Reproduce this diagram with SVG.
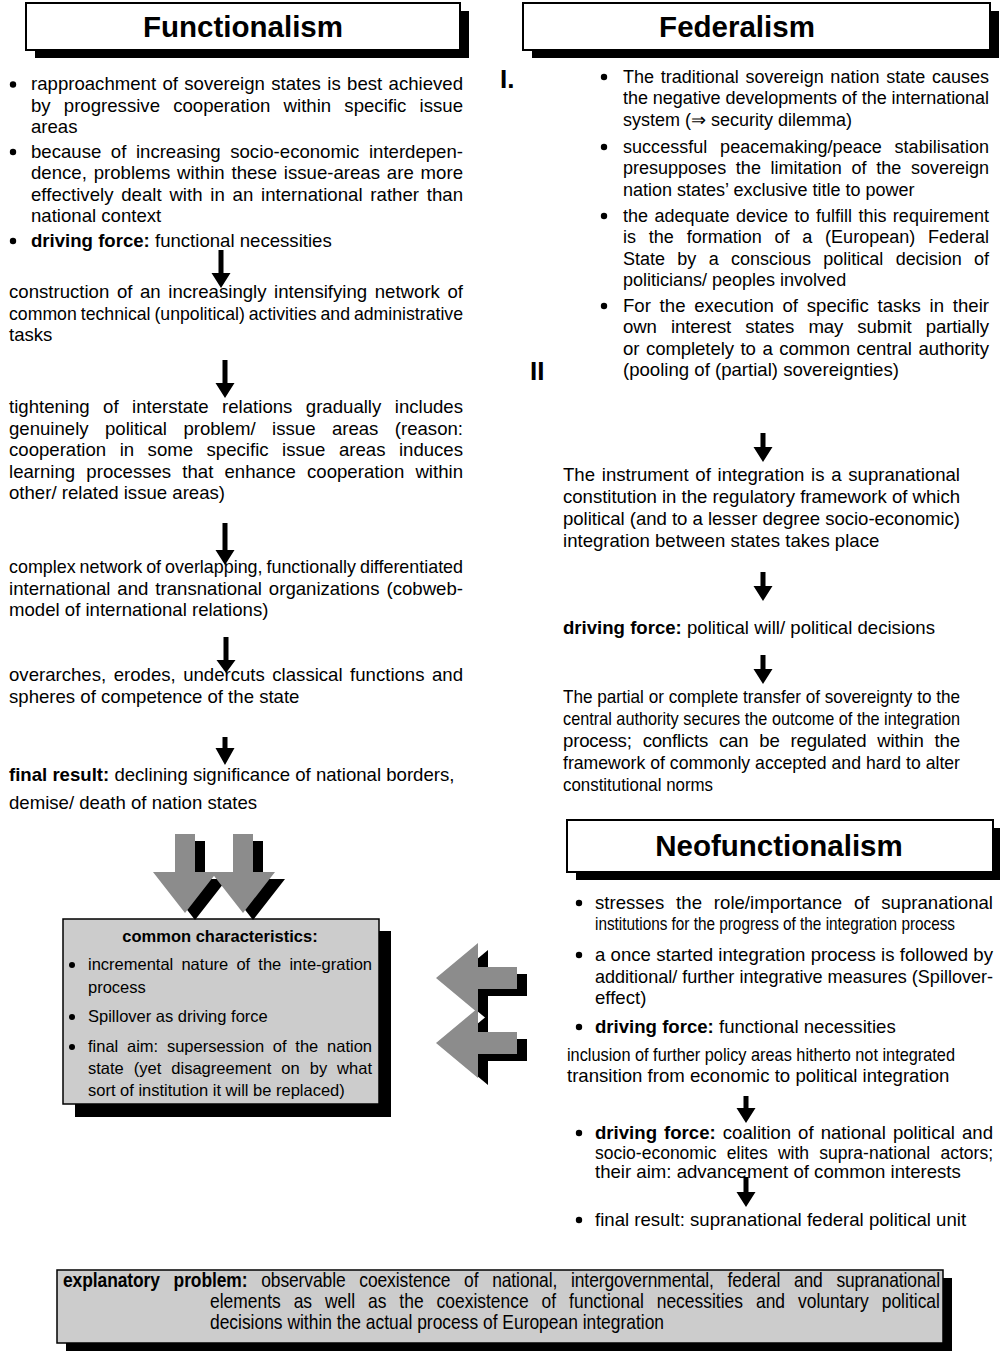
<svg xmlns="http://www.w3.org/2000/svg" width="1000" height="1356" viewBox="0 0 1000 1356">
<style>
.t{font-family:"Liberation Sans",Arial,sans-serif;font-size:18.6px;fill:#000}
.f{font-size:18px}
.b{font-weight:bold}
.h{font-family:"Liberation Sans",Arial,sans-serif;font-size:29.5px;font-weight:bold;text-anchor:middle;fill:#000}
.g{font-family:"Liberation Sans",Arial,sans-serif;font-size:16.5px;fill:#000}
.x{font-family:"Liberation Sans",Arial,sans-serif;font-size:20.5px;fill:#000}
.tb{fill:#fff;stroke:#000;stroke-width:2}
.sh{fill:#000}
.gb{fill:#cccccc;stroke:#000;stroke-width:1.5}
.ga{fill:#8c8c8c}
.arr{fill:#000}
.dot{fill:#000}
</style>
<rect width="1000" height="1356" fill="#fff"/>

<g id="functionalism">
  <rect class="sh" x="35" y="11" width="434" height="47"/>
  <rect class="tb" x="26" y="3" width="434" height="47"/>
  <text class="h" x="243" y="37">Functionalism</text>
  <circle class="dot" cx="13" cy="84.5" r="3.2"/>
  <circle class="dot" cx="13" cy="152" r="3.2"/>
  <circle class="dot" cx="13" cy="241" r="3.2"/>
  <text class="t" x="31" y="90" textLength="432" lengthAdjust="spacing" style="word-spacing:1.2px">rapproachment of sovereign states is best achieved</text>
  <text class="t" x="31" y="111.5" textLength="432" lengthAdjust="spacing" style="word-spacing:8px">by progressive cooperation within specific issue</text>
  <text class="t" x="31" y="133">areas</text>
  <text class="t" x="31" y="157.5" textLength="432" lengthAdjust="spacing" style="word-spacing:4.4px">because of increasing socio-economic interdepen-</text>
  <text class="t" x="31" y="179" textLength="432" lengthAdjust="spacing" style="word-spacing:1.7px">dence, problems within these issue-areas are more</text>
  <text class="t" x="31" y="200.5" textLength="432" lengthAdjust="spacing" style="word-spacing:2.6px">effectively dealt with in an international rather than</text>
  <text class="t" x="31" y="222">national context</text>
  <text class="t" x="31" y="246.5"><tspan class="b">driving force:</tspan> functional necessities</text>
</g>

<g id="func-step1">
  <text class="t" x="9" y="298" textLength="454" lengthAdjust="spacing" style="word-spacing:2.4px">construction of an increasingly intensifying network of</text>
  <text class="t" x="9" y="319.5" textLength="454" lengthAdjust="spacingAndGlyphs" style="word-spacing:-1px">common technical (unpolitical) activities and administrative</text>
  <text class="t" x="9" y="341">tasks</text>
</g>
<g id="func-step2">
  <text class="t" x="9" y="413" textLength="454" lengthAdjust="spacing" style="word-spacing:8.3px">tightening of interstate relations gradually includes</text>
  <text class="t" x="9" y="434.5" textLength="454" lengthAdjust="spacing" style="word-spacing:11.2px">genuinely political problem/ issue areas (reason:</text>
  <text class="t" x="9" y="456" textLength="454" lengthAdjust="spacing" style="word-spacing:8.3px">cooperation in some specific issue areas induces</text>
  <text class="t" x="9" y="477.5" textLength="454" lengthAdjust="spacing" style="word-spacing:6px">learning processes that enhance cooperation within</text>
  <text class="t" x="9" y="499">other/ related issue areas)</text>
</g>
<g id="func-step3">
  <text class="t" x="9" y="573" textLength="454" lengthAdjust="spacingAndGlyphs" style="word-spacing:-1px">complex network of overlapping, functionally differentiated</text>
  <text class="t" x="9" y="594.5" textLength="454" lengthAdjust="spacing" style="word-spacing:1.8px">international and transnational organizations (cobweb-</text>
  <text class="t" x="9" y="616">model of international relations)</text>
</g>
<g id="func-step4">
  <text class="t" x="9" y="681" textLength="454" lengthAdjust="spacing" style="word-spacing:2.3px">overarches, erodes, undercuts classical functions and</text>
  <text class="t" x="9" y="702.5">spheres of competence of the state</text>
</g>
<g id="func-result">
  <text class="t" x="9" y="781"><tspan class="b">final result:</tspan> declining significance of national borders,</text>
  <text class="t" x="9" y="809">demise/ death of nation states</text>
</g>

<g id="federalism">
  <rect class="sh" x="532" y="11" width="467" height="47"/>
  <rect class="tb" x="523" y="3" width="467" height="47"/>
  <text class="h" x="737" y="37">Federalism</text>
  <text class="t b" x="500" y="88" style="font-size:26px">I.</text>
  <text class="t b" x="530" y="380" style="font-size:26px">II</text>
  <circle class="dot" cx="604" cy="77" r="3.2"/>
  <circle class="dot" cx="604" cy="147" r="3.2"/>
  <circle class="dot" cx="604" cy="216" r="3.2"/>
  <circle class="dot" cx="604" cy="306" r="3.2"/>
  <text class="t f" x="623" y="82.5" textLength="366" lengthAdjust="spacing" style="word-spacing:1.7px">The traditional sovereign nation state causes</text>
  <text class="t f" x="623" y="104" textLength="366" lengthAdjust="spacing">the negative developments of the international</text>
  <text class="t f" x="623" y="125.5">system (⇒ security dilemma)</text>
  <text class="t f" x="623" y="152.5" textLength="366" lengthAdjust="spacing" style="word-spacing:7.7px">successful peacemaking/peace stabilisation</text>
  <text class="t f" x="623" y="174" textLength="366" lengthAdjust="spacing" style="word-spacing:4.7px">presupposes the limitation of the sovereign</text>
  <text class="t f" x="623" y="195.5">nation states’ exclusive title to power</text>
  <text class="t f" x="623" y="221.5" textLength="366" lengthAdjust="spacing" style="word-spacing:1.4px">the adequate device to fulfill this requirement</text>
  <text class="t f" x="623" y="243" textLength="366" lengthAdjust="spacing" style="word-spacing:7.8px">is the formation of a (European) Federal</text>
  <text class="t f" x="623" y="264.5" textLength="366" lengthAdjust="spacing" style="word-spacing:7.3px">State by a conscious political decision of</text>
  <text class="t f" x="623" y="286">politicians/ peoples involved</text>
  <text class="t" x="623" y="311.5" textLength="366" lengthAdjust="spacing" style="word-spacing:3.5px">For the execution of specific tasks in their</text>
  <text class="t" x="623" y="333" textLength="366" lengthAdjust="spacing" style="word-spacing:9px">own interest states may submit partially</text>
  <text class="t" x="623" y="354.5" textLength="366" lengthAdjust="spacing" style="word-spacing:1.5px">or completely to a common central authority</text>
  <text class="t" x="623" y="376">(pooling of (partial) sovereignties)</text>
</g>
<g id="fed-instrument">
  <text class="t" x="563" y="481" textLength="397" lengthAdjust="spacing" style="word-spacing:1.5px">The instrument of integration is a supranational</text>
  <text class="t" x="563" y="503" textLength="397" lengthAdjust="spacing">constitution in the regulatory framework of which</text>
  <text class="t" x="563" y="525" textLength="397" lengthAdjust="spacing">political (and to a lesser degree socio-economic)</text>
  <text class="t" x="563" y="546.5">integration between states takes place</text>
</g>
<g id="fed-driving">
  <text class="t" x="563" y="634"><tspan class="b">driving force:</tspan> political will/ political decisions</text>
</g>
<g id="fed-result">
  <text class="t" x="563" y="703" textLength="397" lengthAdjust="spacingAndGlyphs">The partial or complete transfer of sovereignty to the</text>
  <text class="t" x="563" y="725" textLength="397" lengthAdjust="spacingAndGlyphs">central authority secures the outcome of the integration</text>
  <text class="t" x="563" y="747" textLength="397" lengthAdjust="spacing" style="word-spacing:6px">process; conflicts can be regulated within the</text>
  <text class="t" x="563" y="769" textLength="397" lengthAdjust="spacingAndGlyphs">framework of commonly accepted and hard to alter</text>
  <text class="t" x="563" y="791" textLength="150" lengthAdjust="spacingAndGlyphs">constitutional norms</text>
</g>

<g id="neofunctionalism">
  <rect class="sh" x="576" y="828" width="426" height="52"/>
  <rect class="tb" x="567" y="820" width="426" height="52"/>
  <text class="h" x="779" y="856">Neofunctionalism</text>
  <circle class="dot" cx="579" cy="903" r="3.2"/>
  <circle class="dot" cx="579" cy="955" r="3.2"/>
  <circle class="dot" cx="579" cy="1027" r="3.2"/>
  <circle class="dot" cx="579" cy="1133" r="3.2"/>
  <circle class="dot" cx="579" cy="1220" r="3.2"/>
  <text class="t" x="595" y="909" textLength="398" lengthAdjust="spacing" style="word-spacing:6.7px">stresses the role/importance of supranational</text>
  <text class="t" x="595" y="930" textLength="360" lengthAdjust="spacingAndGlyphs">institutions for the progress of the integration process</text>
  <text class="t" x="595" y="961" textLength="398" lengthAdjust="spacing">a once started integration process is followed by</text>
  <text class="t" x="595" y="982.5" textLength="398" lengthAdjust="spacingAndGlyphs">additional/ further integrative measures (Spillover-</text>
  <text class="t" x="595" y="1004">effect)</text>
  <text class="t" x="595" y="1033"><tspan class="b">driving force:</tspan> functional necessities</text>
  <text class="t" x="567" y="1061" textLength="388" lengthAdjust="spacingAndGlyphs">inclusion of further policy areas hitherto not integrated</text>
  <text class="t" x="567" y="1082">transition from economic to political integration</text>
  <text class="t" x="595" y="1139" textLength="398" lengthAdjust="spacing" style="word-spacing:1.9px"><tspan class="b">driving force:</tspan> coalition of national political and</text>
  <text class="t" x="595" y="1158.5" textLength="398" lengthAdjust="spacing" style="font-size:17.5px;word-spacing:5.4px">socio-economic elites with supra-national actors;</text>
  <text class="t" x="595" y="1178">their aim: advancement of common interests</text>
  <text class="t" x="595" y="1226">final result: supranational federal political unit</text>
</g>

<g id="common-characteristics">
  <rect class="sh" x="75" y="931" width="316" height="186"/>
  <rect class="gb" x="63" y="919" width="316" height="185"/>
  <text class="g b" x="220" y="942" text-anchor="middle">common characteristics:</text>
  <circle class="dot" cx="72" cy="965" r="3"/>
  <circle class="dot" cx="72" cy="1017" r="3"/>
  <circle class="dot" cx="72" cy="1047" r="3"/>
  <text class="g" x="88" y="970" textLength="284" lengthAdjust="spacing" style="word-spacing:3.6px">incremental nature of the inte-gration</text>
  <text class="g" x="88" y="993">process</text>
  <text class="g" x="88" y="1022">Spillover as driving force</text>
  <text class="g" x="88" y="1052" textLength="284" lengthAdjust="spacing" style="word-spacing:4.2px">final aim: supersession of the nation</text>
  <text class="g" x="88" y="1074" textLength="284" lengthAdjust="spacing" style="word-spacing:5.4px">state (yet disagreement on by what</text>
  <text class="g" x="88" y="1096">sort of institution it will be replaced)</text>
</g>

<g id="explanatory-problem">
  <rect class="sh" x="66" y="1278" width="886" height="73"/>
  <rect class="gb" x="57" y="1270" width="886" height="73"/>
  <g transform="translate(63 0) scale(0.85 1)">
    <text class="x" x="0" y="1287" textLength="1031.8" lengthAdjust="spacing" style="word-spacing:10.5px"><tspan class="b">explanatory problem:</tspan> observable coexistence of national, intergovernmental, federal and supranational</text>
    <text class="x" x="172.9" y="1308" textLength="858.8" lengthAdjust="spacing" style="word-spacing:9.5px">elements as well as the coexistence of functional necessities and voluntary political</text>
    <text class="x" x="172.9" y="1329">decisions within the actual process of European integration</text>
  </g>
</g>

<g id="connectors">
  <path class="arr" d="M218.5 250H223.5V273H230.5L221 288L211.5 273H218.5Z"/>
  <path class="arr" d="M222.5 360H227.5V383H234.5L225 398L215.5 383H222.5Z"/>
  <path class="arr" d="M222.5 523H227.5V550H234.5L225 565L215.5 550H222.5Z"/>
  <path class="arr" d="M223.5 637H228.5V660H235.5L226 673L216.5 660H223.5Z"/>
  <path class="arr" d="M222.5 737H227.5V748H234.5L225 765L215.5 748H222.5Z"/>
  <path class="arr" d="M760.5 433H765.5V447H772.5L763 462L753.5 447H760.5Z"/>
  <path class="arr" d="M760.5 572H765.5V586H772.5L763 601L753.5 586H760.5Z"/>
  <path class="arr" d="M760.5 655H765.5V669H772.5L763 684L753.5 669H760.5Z"/>
  <path class="arr" d="M743.5 1096H748.5V1108H755.5L746 1123L736.5 1108H743.5Z"/>
  <path class="arr" d="M743.5 1177H748.5V1192H755.5L746 1207L736.5 1192H743.5Z"/>

  <path class="sh" d="M185 841H205V879H227L195 920L163 879H185Z"/>
  <path class="ga" d="M175 834H195V872H217L185 913L153 872H175Z"/>
  <path class="sh" d="M243 841H263V879H285L253 920L221 879H243Z"/>
  <path class="ga" d="M233 834H253V872H275L243 913L211 872H233Z"/>

  <path class="sh" d="M527 974V996H488V1020L446 985L488 950V974Z"/>
  <path class="ga" d="M517 967V989H478V1013L436 978L478 943V967Z"/>
  <path class="sh" d="M527 1039V1061H488V1085L446 1050L488 1015V1039Z"/>
  <path class="ga" d="M517 1032V1054H478V1078L436 1043L478 1008V1032Z"/>
</g>
</svg>
